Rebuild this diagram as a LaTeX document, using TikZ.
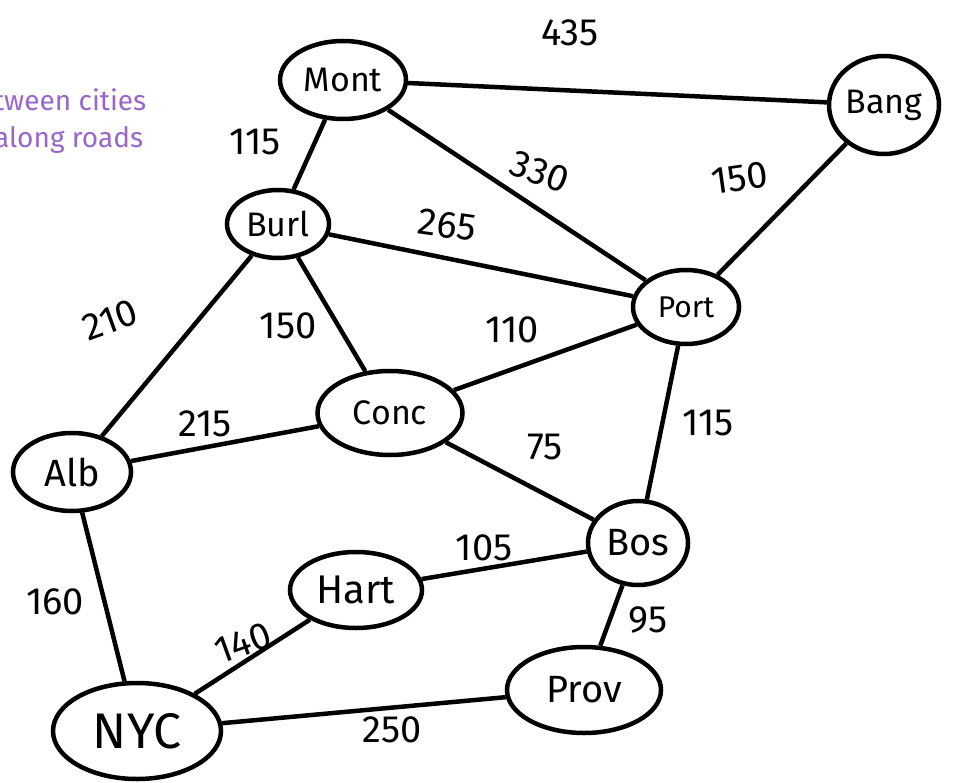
\documentclass[tikz,border=0pt]{standalone}
\usepackage{fontspec}
\setmainfont{Fira Sans}
\usetikzlibrary{shapes.geometric}
\definecolor{note}{HTML}{9966CC}
\begin{document}
\begin{tikzpicture}[x=1pt,y=-1pt,
  city/.style={draw,ellipse,line width=4.5pt,inner sep=0pt,font=\fontsize{34}{36}\selectfont},
  road/.style={line width=4.5pt},
  wt/.style={font=\fontsize{38}{40}\selectfont,inner sep=0pt}]
\useasboundingbox (0,0) rectangle (957,783);
\clip (0,0) rectangle (957,783);
\node[city,minimum width=126,minimum height=78] (mont) at (343,80) {Mont};
\node[city,minimum width=110,minimum height=98] (bang) at (884,105) {Bang};
\node[city,minimum width=102,minimum height=68] (burl) at (278,224) {Burl};
\node[city,minimum width=106,minimum height=74,font=\fontsize{30}{32}\selectfont] (port) at (686,307) {Port};
\node[city,minimum width=145,minimum height=84] (conc) at (390,413) {Conc};
\node[city,minimum width=118,minimum height=78,font=\fontsize{38}{40}\selectfont] (alb) at (72,472) {Alb};
\node[city,minimum width=100,minimum height=84,font=\fontsize{38}{40}\selectfont] (bos) at (638,543) {Bos};
\node[city,minimum width=132,minimum height=76,font=\fontsize{40}{42}\selectfont] (hart) at (356,590) {Hart};
\node[city,minimum width=154,minimum height=86,font=\fontsize{38}{40}\selectfont] (prov) at (584,690) {Prov};
\node[city,minimum width=168,minimum height=96,font=\fontsize{50}{52}\selectfont] (nyc) at (137,731) {NYC};

\draw[road] (mont) -- (bang);
\draw[road] (mont) -- (burl);
\draw[road] (mont) -- (port);
\draw[road] (bang) -- (port);
\draw[road] (burl) -- (port);
\draw[road] (burl) -- (conc);
\draw[road] (burl) -- (alb);
\draw[road] (port) -- (conc);
\draw[road] (port) -- (bos);
\draw[road] (conc) -- (alb);
\draw[road] (conc) -- (bos);
\draw[road] (alb) -- (nyc);
\draw[road] (bos) -- (hart);
\draw[road] (bos) -- (prov);
\draw[road] (hart) -- (nyc);
\draw[road] (nyc) -- (prov);

\node[wt] (w1) at (570,33) {435};
\node[wt] (w2) at (255,142) {115};
\node[wt,rotate=-20] (w3) at (540,172) {330};
\node[wt,rotate=8] (w4) at (740,178) {150};
\node[wt,rotate=-8] (w5) at (447,225) {265};
\node[wt] (w6) at (288,326) {150};
\node[wt,rotate=20] (w7) at (110,320) {210};
\node[wt] (w8) at (512,330) {110};
\node[wt] (w9) at (708,423) {115};
\node[wt] (w10) at (205,424) {215};
\node[wt] (w11) at (545,447) {75};
\node[wt] (w12) at (55,602) {160};
\node[wt] (w13) at (484,548) {105};
\node[wt] (w14) at (648,620) {95};
\node[wt,rotate=20] (w15) at (243,643) {140};
\node[wt] (w16) at (392,730) {250};

\node[text=note,anchor=west,font=\fontsize{28}{30}\selectfont,inner sep=0pt] (n1) at (-38,100) {between cities};
\node[text=note,anchor=west,font=\fontsize{28}{30}\selectfont,inner sep=0pt] (n2) at (-6,140) {along roads};
\end{tikzpicture}
\end{document}
